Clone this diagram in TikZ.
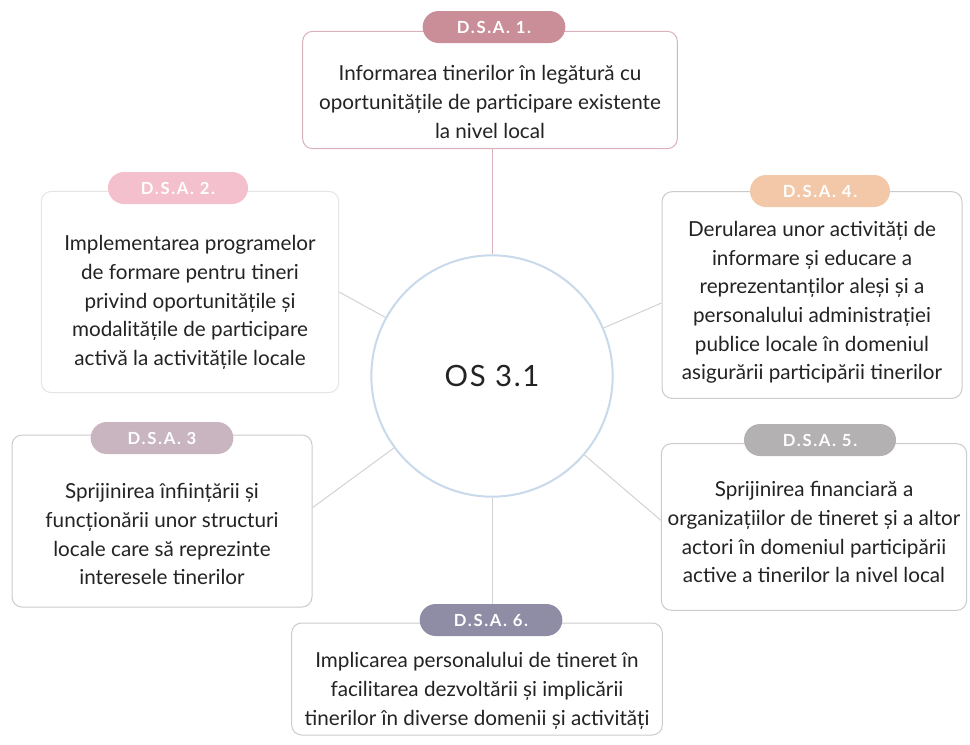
\documentclass[tikz,border=0pt]{standalone}
\usepackage{fontspec}
\setmainfont{Lato}
\newfontfamily\osfont[LetterSpace=6]{Lato}
\newfontfamily\pillfont[LetterSpace=10]{Lato}
\usepackage{xcolor}
\definecolor{Ink}{HTML}{232323}
\definecolor{BoxGray}{HTML}{CBCBCB}
\definecolor{LinkGray}{HTML}{D2D2D2}
\definecolor{RoseLine}{HTML}{DBB1B9}
\definecolor{RingBlue}{HTML}{C9D9EC}
\definecolor{RoseDust}{HTML}{C98E98}
\definecolor{PinkSoft}{HTML}{F4C0CD}
\definecolor{MauveGray}{HTML}{C8B5C0}
\definecolor{Peach}{HTML}{F3C8A9}
\definecolor{StoneGray}{HTML}{B4B1B3}
\definecolor{Slate}{HTML}{8F8CA6}

\begin{document}
\begin{tikzpicture}[
    x=0.75pt, y=-0.75pt,
    every node/.style={inner sep=0pt},
    box/.style={
        draw=BoxGray, line width=0.75pt, rounded corners=7.5pt, fill=white
    },
    note/.style={align=center, text=Ink, font=\fontsize{15.5}{21.5}\selectfont},
    pill/.style={
        rounded corners=12pt, minimum height=24pt, minimum width=107pt,
        text=white, font=\pillfont\fontsize{12.5}{14}\selectfont\bfseries
    },
    link/.style={draw=LinkGray, line width=0.75pt}
]
\useasboundingbox (0,0) rectangle (970,744);

% =============================================
% Centre: objective
% =============================================
\node[circle, draw=RingBlue, line width=1.5pt, fill=white,
      minimum size=181pt, text=Ink, font=\osfont\fontsize{22}{24}\selectfont]
    (os) at (492,376) {OS 3.1};

% =============================================
% Boxes round the circle
% =============================================
\node[box, draw=RoseLine, minimum width=281pt, minimum height=88pt] (box1) at (490,90) {};
\node[note] (txt1) at ([yshift=-9pt]box1.center)
    {Informarea tinerilor în legătură cu\\oportunitățile de participare existente\\la nivel local};
\node[pill, fill=RoseDust] (pill1) at (494,27) {D.S.A. 1.};

\node[box, draw=BoxGray!50, minimum width=223pt, minimum height=151pt] (box2) at (190,292) {};
\node[note] (txt2) at ([yshift=-8pt]box2.center)
    {Implementarea programelor\\de formare pentru tineri\\privind oportunitățile și\\modalitățile de participare\\activă la activitățile locale};
\node[pill, fill=PinkSoft, minimum width=105pt] (pill2) at (178,188) {D.S.A. 2.};

\node[box, minimum width=225pt, minimum height=129pt] (box3) at (162,521) {};
\node[note] (txt3) at ([yshift=-10pt]box3.center)
    {Sprijinirea înființării și\\funcționării unor structuri\\locale care să reprezinte\\interesele tinerilor};
\node[pill, fill=MauveGray] (pill3) at (162,438) {D.S.A. 3};

\node[box, minimum width=225pt, minimum height=155pt] (box4) at (812,295) {};
\node[note] (txt4) at ([yshift=-5.5pt]box4.center)
    {Derularea unor activități de\\informare și educare a\\reprezentanților aleși și a\\personalului administrației\\publice locale în domeniul\\asigurării participării tinerilor};
\node[pill, fill=Peach, minimum width=105pt] (pill4) at (820,191) {D.S.A. 4.};

\node[box, minimum width=229pt, minimum height=125pt] (box5) at (814,527) {};
\node[note] (txt5) at ([yshift=-4pt]box5.center)
    {Sprijinirea financiară a\\organizațiilor de tineret și a altor\\actori în domeniul participării\\active a tinerilor la nivel local};
\node[pill, fill=StoneGray, minimum width=114pt] (pill5) at (820,440) {D.S.A. 5.};

\node[box, minimum width=278pt, minimum height=84pt] (box6) at (477,679) {};
\node[note] (txt6) at ([yshift=-9pt]box6.center)
    {Implicarea personalului de tineret în\\facilitarea dezvoltării și implicării\\tinerilor în diverse domenii și activități};
\node[pill, fill=Slate] (pill6) at (491,620) {D.S.A. 6.};

% =============================================
% Spokes
% =============================================
\draw[link, draw=RoseLine] (os) -- (os |- box1.south);
\draw[link] (os) -- (box2.east);
\draw[link] (os) -- ([yshift=10pt]box3.east);
\draw[link] (os) -- ([yshift=-6pt]box4.west);
\draw[link] (os) -- ([yshift=5pt]box5.west);
\draw[link] (os) -- (os |- pill6.north);

\end{tikzpicture}
\end{document}
